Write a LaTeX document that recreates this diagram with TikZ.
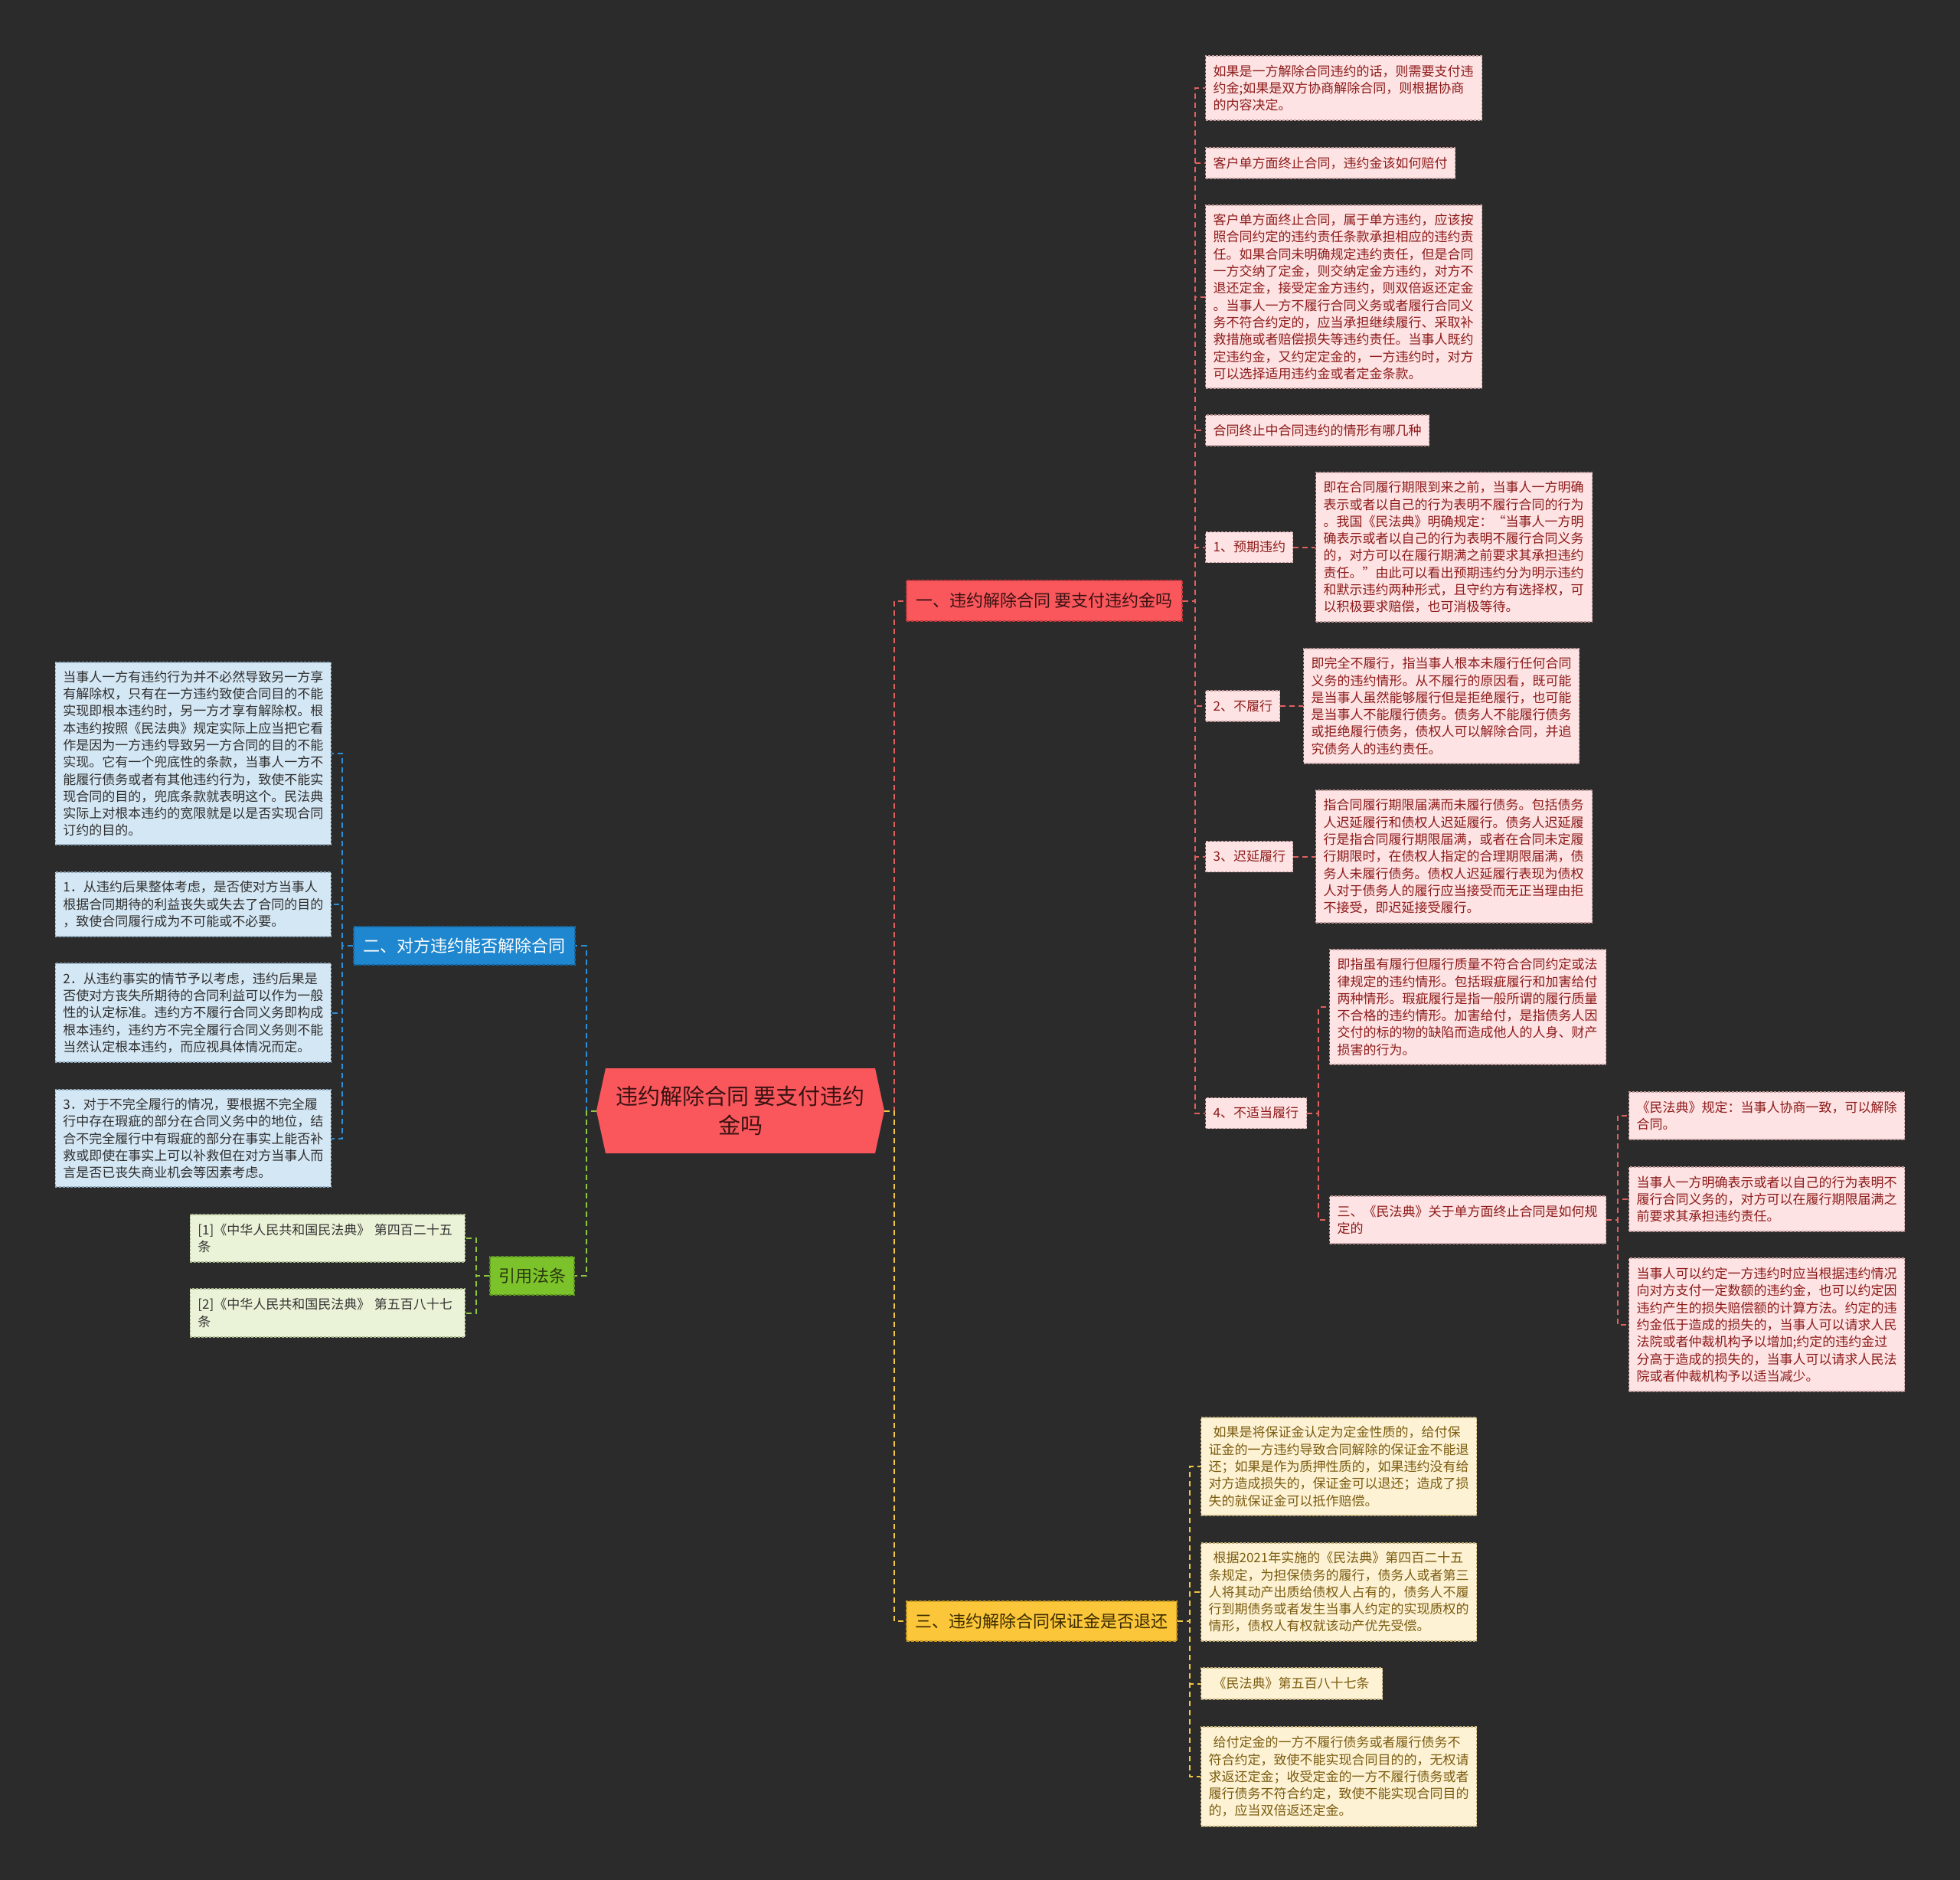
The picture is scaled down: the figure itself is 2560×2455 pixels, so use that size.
\documentclass[tikz,border=0pt]{standalone}
\usepackage{fontspec}
\setmainfont{Noto Sans CJK SC}
\usetikzlibrary{calc}
\definecolor{bg}{HTML}{2B2B2B}
\definecolor{pkF}{HTML}{FDE3E3}\definecolor{pkT}{HTML}{8E1B1B}\definecolor{pkB}{HTML}{C29C9C}
\definecolor{blF}{HTML}{D4E7F4}\definecolor{blT}{HTML}{2F2F2F}\definecolor{blB}{HTML}{8FA9BC}
\definecolor{grF}{HTML}{EAF3D7}\definecolor{grT}{HTML}{333333}\definecolor{grB}{HTML}{A9B98F}
\definecolor{ylF}{HTML}{FDF3D4}\definecolor{ylT}{HTML}{7B5B10}\definecolor{ylB}{HTML}{C2AE7A}
\definecolor{rdBr}{HTML}{F9575C}\definecolor{rdBrT}{HTML}{3A1212}\definecolor{rdBrB}{HTML}{C23A3E}
\definecolor{blBr}{HTML}{1E87CF}\definecolor{blBrB}{HTML}{16659C}
\definecolor{grBr}{HTML}{7BC22B}\definecolor{grBrT}{HTML}{2A3A0E}\definecolor{grBrB}{HTML}{5C9320}
\definecolor{ylBr}{HTML}{FCC63A}\definecolor{ylBrT}{HTML}{3B2C00}\definecolor{ylBrB}{HTML}{C99A20}
\definecolor{cR}{HTML}{E0605F}\definecolor{cB}{HTML}{2C8FD6}\definecolor{cG}{HTML}{8DC63F}\definecolor{cY}{HTML}{F2C744}
\begin{document}
\begin{tikzpicture}[x=1pt,y=-1pt,
  leaf/.style={rectangle, draw, dash pattern=on 3pt off 2pt, line width=1.2pt, anchor=west,
    inner xsep=10pt, inner ysep=0pt, align=left, font=\fontsize{17}{22.3}\selectfont},
  pk/.style={leaf, fill=pkF, draw=pkB, text=pkT},
  bl/.style={leaf, fill=blF, draw=blB, text=blT},
  gr/.style={leaf, fill=grF, draw=grB, text=grT},
  yl/.style={leaf, fill=ylF, draw=ylB, text=ylT},
  br/.style={rectangle, draw, dash pattern=on 4pt off 2pt, line width=1.2pt, inner sep=0pt,
    align=center, font=\fontsize{22}{26}\selectfont},
  conn/.style={line width=2pt, dash pattern=on 7pt off 5pt},
  lR/.style={conn, draw=cR}, lB/.style={conn, draw=cB}, lG/.style={conn, draw=cG}, lY/.style={conn, draw=cY}
]
\fill[bg] (0,0) rectangle (2560,2455);
\useasboundingbox (0,0) rectangle (2560,2455);

% ---------- center ----------
\fill[rdBr] (779,1450.5) -- (791,1395) -- (1143,1395) -- (1155,1450.5) -- (1143,1506) -- (791,1506) -- cycle;
\node[minimum width=376pt, minimum height=111pt, inner sep=0pt, align=center,
  font=\fontsize{29}{38}\selectfont, text=rdBrT] (ctr) at (967,1450.5) {违约解除合同 要支付违约\\金吗};

% ---------- branches ----------
\node[br, fill=rdBr, draw=rdBrB, text=rdBrT, minimum width=360pt, minimum height=53pt] (r) at (1364,784.5) {一、违约解除合同 要支付违约金吗};
\node[br, fill=ylBr, draw=ylBrB, text=ylBrT, minimum width=353pt, minimum height=52pt] (y) at (1360.5,2117) {三、违约解除合同保证金是否退还};
\node[br, fill=blBr, draw=blBrB, text=white, minimum width=289pt, minimum height=50pt] (b) at (606.5,1235) {二、对方违约能否解除合同};
\node[br, fill=grBr, draw=grBrB, text=grBrT, minimum width=110pt, minimum height=50pt] (g) at (695,1666) {引用法条};

% ---------- red leaves ----------
\node[pk, text width=341pt, minimum height=84pt] (a1) at (1574,115) {如果是一方解除合同违约的话，则需要支付违\\约金;如果是双方协商解除合同，则根据协商\\的内容决定。};
\node[pk, text width=306pt, minimum height=40pt] (a2) at (1574,213) {客户单方面终止合同，违约金该如何赔付};
\node[pk, text width=341pt, minimum height=239pt] (a3) at (1574,387.5) {客户单方面终止合同，属于单方违约，应该按\\照合同约定的违约责任条款承担相应的违约责\\任。如果合同未明确规定违约责任，但是合同\\一方交纳了定金，则交纳定金方违约，对方不\\退还定金，接受定金方违约，则双倍返还定金\\。当事人一方不履行合同义务或者履行合同义\\务不符合约定的，应当承担继续履行、采取补\\救措施或者赔偿损失等违约责任。当事人既约\\定违约金，又约定定金的，一方违约时，对方\\可以选择适用违约金或者定金条款。};
\node[pk, text width=272pt, minimum height=40pt] (a4) at (1574,562) {合同终止中合同违约的情形有哪几种};
\node[pk, text width=94pt, minimum height=40pt] (l1) at (1574,714.5) {1、预期违约};
\node[pk, text width=77pt, minimum height=40pt] (l2) at (1574,922) {2、不履行};
\node[pk, text width=94pt, minimum height=40pt] (l3) at (1574,1118.5) {3、迟延履行};
\node[pk, text width=112pt, minimum height=40pt] (l4) at (1574,1453.5) {4、不适当履行};

\node[pk, text width=341pt, minimum height=195pt] (d1) at (1718,714.5) {即在合同履行期限到来之前，当事人一方明确\\表示或者以自己的行为表明不履行合同的行为\\。我国《民法典》明确规定：“当事人一方明\\确表示或者以自己的行为表明不履行合同义务\\的，对方可以在履行期满之前要求其承担违约\\责任。”由此可以看出预期违约分为明示违约\\和默示违约两种形式，且守约方有选择权，可\\以积极要求赔偿，也可消极等待。};
\node[pk, text width=340pt, minimum height=150pt] (d2) at (1702,922) {即完全不履行，指当事人根本未履行任何合同\\义务的违约情形。从不履行的原因看，既可能\\是当事人虽然能够履行但是拒绝履行，也可能\\是当事人不能履行债务。债务人不能履行债务\\或拒绝履行债务，债权人可以解除合同，并追\\究债务人的违约责任。};
\node[pk, text width=341pt, minimum height=173pt] (d3) at (1718,1118.5) {指合同履行期限届满而未履行债务。包括债务\\人迟延履行和债权人迟延履行。债务人迟延履\\行是指合同履行期限届满，或者在合同未定履\\行期限时，在债权人指定的合理期限届满，债\\务人未履行债务。债权人迟延履行表现为债权\\人对于债务人的履行应当接受而无正当理由拒\\不接受，即迟延接受履行。};
\node[pk, text width=341pt, minimum height=150pt] (d4) at (1736,1315) {即指虽有履行但履行质量不符合合同约定或法\\律规定的违约情形。包括瑕疵履行和加害给付\\两种情形。瑕疵履行是指一般所谓的履行质量\\不合格的违约情形。加害给付，是指债务人因\\交付的标的物的缺陷而造成他人的人身、财产\\损害的行为。};
\node[pk, text width=341pt, minimum height=62pt] (s3) at (1736,1593) {三、《民法典》关于单方面终止合同是如何规\\定的};
\node[pk, text width=340pt, minimum height=62pt] (c1) at (2127,1457) {《民法典》规定：当事人协商一致，可以解除\\合同。};
\node[pk, text width=340pt, minimum height=84pt] (c2) at (2127,1566) {当事人一方明确表示或者以自己的行为表明不\\履行合同义务的，对方可以在履行期限届满之\\前要求其承担违约责任。};
\node[pk, text width=340pt, minimum height=174pt] (c3) at (2127,1730) {当事人可以约定一方违约时应当根据违约情况\\向对方支付一定数额的违约金，也可以约定因\\违约产生的损失赔偿额的计算方法。约定的违\\约金低于造成的损失的，当事人可以请求人民\\法院或者仲裁机构予以增加;约定的违约金过\\分高于造成的损失的，当事人可以请求人民法\\院或者仲裁机构予以适当减少。};

% ---------- blue leaves ----------
\node[bl, anchor=east, text width=340pt, minimum height=238pt] (b1) at (433,984) {当事人一方有违约行为并不必然导致另一方享\\有解除权，只有在一方违约致使合同目的不能\\实现即根本违约时，另一方才享有解除权。根\\本违约按照《民法典》规定实际上应当把它看\\作是因为一方违约导致另一方合同的目的不能\\实现。它有一个兜底性的条款，当事人一方不\\能履行债务或者有其他违约行为，致使不能实\\现合同的目的，兜底条款就表明这个。民法典\\实际上对根本违约的宽限就是以是否实现合同\\订约的目的。};
\node[bl, anchor=east, text width=340pt, minimum height=84pt] (b2) at (433,1181) {1．从违约后果整体考虑，是否使对方当事人\\根据合同期待的利益丧失或失去了合同的目的\\，致使合同履行成为不可能或不必要。};
\node[bl, anchor=east, text width=340pt, minimum height=129pt] (b3) at (433,1322.5) {2．从违约事实的情节予以考虑，违约后果是\\否使对方丧失所期待的合同利益可以作为一般\\性的认定标准。违约方不履行合同义务即构成\\根本违约，违约方不完全履行合同义务则不能\\当然认定根本违约，而应视具体情况而定。};
\node[bl, anchor=east, text width=340pt, minimum height=127pt] (b4) at (433,1486.5) {3．对于不完全履行的情况，要根据不完全履\\行中存在瑕疵的部分在合同义务中的地位，结\\合不完全履行中有瑕疵的部分在事实上能否补\\救或即使在事实上可以补救但在对方当事人而\\言是否已丧失商业机会等因素考虑。};

% ---------- green leaves ----------
\node[gr, anchor=east, text width=339pt, minimum height=62pt] (g1) at (608,1617) {{[1]}《中华人民共和国民法典》 第四百二十五\\条};
\node[gr, anchor=east, text width=339pt, minimum height=63pt] (g2) at (608,1714.5) {{[2]}《中华人民共和国民法典》 第五百八十七\\条};

% ---------- yellow leaves ----------
\node[yl, text width=340pt, minimum height=128pt] (y1) at (1568,1915) {\hspace*{6pt}如果是将保证金认定为定金性质的，给付保\\证金的一方违约导致合同解除的保证金不能退\\还；如果是作为质押性质的，如果违约没有给\\对方造成损失的，保证金可以退还；造成了损\\失的就保证金可以抵作赔偿。};
\node[yl, text width=340pt, minimum height=128pt] (y2) at (1568,2079) {\hspace*{6pt}根据2021年实施的《民法典》第四百二十五\\条规定，为担保债务的履行，债务人或者第三\\人将其动产出质给债权人占有的，债务人不履\\行到期债务或者发生当事人约定的实现质权的\\情形，债权人有权就该动产优先受偿。};
\node[yl, text width=217pt, minimum height=41pt] (y3) at (1568,2198.5) {\hspace*{6pt}《民法典》第五百八十七条};
\node[yl, text width=340pt, minimum height=130pt] (y4) at (1568,2320) {\hspace*{6pt}给付定金的一方不履行债务或者履行债务不\\符合约定，致使不能实现合同目的的，无权请\\求返还定金；收受定金的一方不履行债务或者\\履行债务不符合约定，致使不能实现合同目的\\的，应当双倍返还定金。};

% ---------- connectors ----------
\draw[lR] (ctr.east) -- ++(13,0) |- (r.west);
\draw[lY] (ctr.east) -- ++(13,0) |- (y.west);
\draw[lB] (ctr.west) -- ++(-13,0) |- (b.east);
\draw[lG] (ctr.west) -- ++(-13,0) |- (g.east);

\foreach \n in {a1,a2,a3,a4,l1,l2,l3,l4}
  \draw[lR] (r.east) -- ++(16,0) |- (\n.west);
\draw[lR] (l1.east) -- (d1.west);
\draw[lR] (l2.east) -- (d2.west);
\draw[lR] (l3.east) -- (d3.west);
\foreach \n in {d4,s3}
  \draw[lR] (l4.east) -- ++(15,0) |- (\n.west);
\foreach \n in {c1,c2,c3}
  \draw[lR] (s3.east) -- ++(15,0) |- (\n.west);

\foreach \n in {b1,b2,b3,b4}
  \draw[lB] (b.west) -- ++(-14,0) |- (\n.east);
\foreach \n in {g1,g2}
  \draw[lG] (g.west) -- ++(-17,0) |- (\n.east);
\foreach \n in {y1,y2,y3,y4}
  \draw[lY] (y.east) -- ++(16,0) |- (\n.west);
\end{tikzpicture}
\end{document}
